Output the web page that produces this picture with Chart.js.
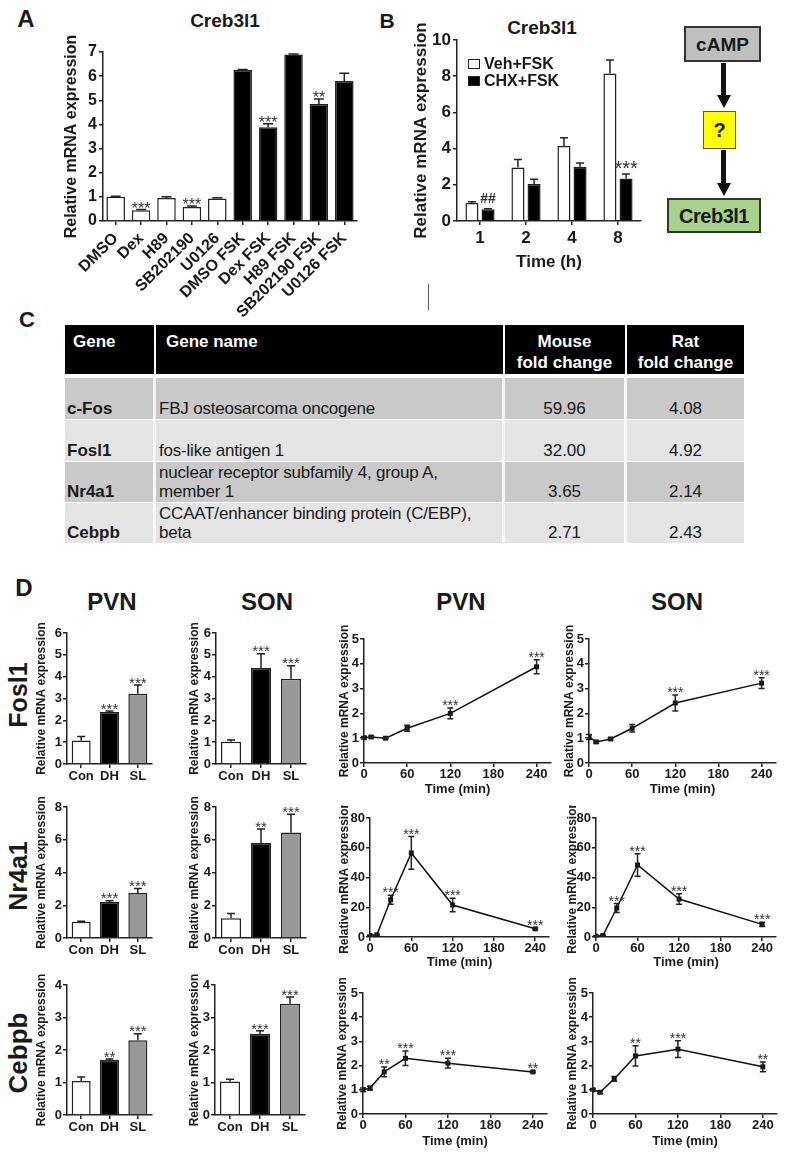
<!DOCTYPE html>
<html>
<head>
<meta charset="utf-8">
<script src="https://cdn.jsdelivr.net/npm/chart.js@4.4.1/dist/chart.umd.min.js"></script>
<style>
  body { margin: 0; background: #fff; font-family: "Liberation Sans", Arial, sans-serif; color: #1a1a1a; }
  #page { position: relative; width: 787px; height: 1157px; overflow: hidden; }
  #page canvas { position: absolute; }
  .txt { position: absolute; white-space: nowrap; font-weight: bold; line-height: 1; transform: translate(-50%, -50%); }
  .rot { transform: translate(-50%, -50%) rotate(-90deg); }
  .cell { position: absolute; box-sizing: border-box; font-size: 17px; line-height: 19px; display: flex; align-items: flex-end; }
</style>
</head>
<body>
<div id="page"></div>
<script>
// ---- panel A: Creb3l1 after inhibitors +/- FSK
const aGroups = ["DMSO", "Dex", "H89", "SB202190", "U0126", "DMSO FSK", "Dex FSK", "H89 FSK", "SB202190 FSK", "U0126 FSK"];
const aMean = [1.0, 0.45, 0.95, 0.58, 0.93, 6.25, 3.88, 6.9, 4.85, 5.8];
const aSem = [0.02, 0.03, 0.05, 0.04, 0.03, 0.03, 0.15, 0.02, 0.2, 0.32];
const aSig = ["", "***", "", "***", "", "", "***", "", "**", ""];

// ---- panel B: Creb3l1 time course with cycloheximide
const bHours = ["1", "2", "4", "8"];
const bSeries = ["Veh+FSK", "CHX+FSK"];
const bVeh = [1.0, 2.95, 4.15, 8.15];
const bVehSem = [0.06, 0.45, 0.45, 0.75];
const bChx = [0.65, 2.05, 3.0, 2.35];
const bChxSem = [0.03, 0.25, 0.2, 0.25];
const bChxSig = ["##", "", "", "***"];

// ---- panel C: table
const tableHead = ["Gene", "Gene name", "Mouse<br>fold change", "Rat<br>fold change"];
const tableGenes = ["c-Fos", "Fosl1", "Nr4a1", "Cebpb"];
const tableNames = ["FBJ osteosarcoma oncogene", "fos-like antigen 1", "nuclear receptor subfamily 4, group A, member 1", "CCAAT/enhancer binding protein (C/EBP), beta"];
const mouseFold = ["59.96", "32.00", "3.65", "2.71"];
const ratFold = ["4.08", "4.92", "2.14", "2.43"];

// ---- panel D: bars (Con / DH / SL)
const dGroups = ["Con", "DH", "SL"];
const fosl1PvnBar = [1.08, 2.38, 3.22];
const fosl1PvnBarSem = [0.18, 0.05, 0.4];
const fosl1SonBar = [1.02, 4.4, 3.9];
const fosl1SonBarSem = [0.08, 0.65, 0.6];
const nr4a1PvnBar = [1.0, 2.2, 2.75];
const nr4a1PvnBarSem = [0.03, 0.08, 0.28];
const nr4a1SonBar = [1.2, 5.8, 6.45];
const nr4a1SonBarSem = [0.3, 0.85, 1.1];
const cebpbPvnBar = [1.05, 1.69, 2.3];
const cebpbPvnBarSem = [0.12, 0.03, 0.2];
const cebpbSonBar = [1.03, 2.49, 3.42];
const cebpbSonBarSem = [0.07, 0.1, 0.21];
const fosl1PvnBarSig = ["", "***", "***"];
const fosl1SonBarSig = ["", "***", "***"];
const nr4a1PvnBarSig = ["", "***", "***"];
const nr4a1SonBarSig = ["", "**", "***"];
const cebpbPvnBarSig = ["", "**", "***"];
const cebpbSonBarSig = ["", "***", "***"];

// ---- panel D: time courses (min)
const minutes = [0, 10, 30, 60, 120, 240];
const timeTicks = [0, 60, 120, 180, 240];
const fosl1PvnTime = [1.02, 1.05, 1.0, 1.4, 2.0, 3.88];
const fosl1PvnTimeSem = [0.05, 0.04, 0.03, 0.12, 0.22, 0.28];
const fosl1PvnTimeSig = ["", "", "", "", "***", "***"];
const fosl1SonTime = [1.05, 0.85, 0.97, 1.4, 2.42, 3.22];
const fosl1SonTimeSem = [0.1, 0.04, 0.04, 0.15, 0.32, 0.22];
const fosl1SonTimeSig = ["", "", "", "", "***", "***"];
const nr4a1PvnTime = [1.0, 1.5, 25, 56.5, 21.5, 5.5];
const nr4a1PvnTimeSem = [0.3, 0.4, 3, 11, 4.5, 0.6];
const nr4a1PvnTimeSig = ["", "", "***", "***", "***", "***"];
const nr4a1SonTime = [0.5, 1.0, 19.5, 48.4, 25.5, 8.5];
const nr4a1SonTimeSem = [0.3, 0.4, 3, 7.5, 3.5, 1.5];
const nr4a1SonTimeSig = ["", "", "***", "***", "***", "***"];
const cebpbPvnTime = [1.0, 1.07, 1.74, 2.3, 2.1, 1.74];
const cebpbPvnTimeSem = [0.07, 0.08, 0.2, 0.3, 0.2, 0.04];
const cebpbPvnTimeSig = ["", "", "**", "***", "***", "**"];
const cebpbSonTime = [1.0, 0.9, 1.45, 2.4, 2.68, 1.95];
const cebpbSonTimeSem = [0.05, 0.05, 0.1, 0.42, 0.35, 0.2];
const cebpbSonTimeSig = ["", "", "", "**", "***", "**"];

const INK = "#222";
const YLABEL = "Relative mRNA expression";
const page = document.getElementById("page");

Chart.defaults.font.family = '"Liberation Sans", Arial, sans-serif';
Chart.defaults.font.weight = "bold";
Chart.defaults.color = "#1a1a1a";

// error bars + significance marks, drawn from each dataset's sem / sig arrays
const errorBars = {
  id: "errorBars",
  afterDatasetsDraw(chart, args, opts) {
    const ctx = chart.ctx;
    const yScale = chart.scales.y;
    chart.data.datasets.forEach((ds, di) => {
      if (!ds.sem) return;
      const meta = chart.getDatasetMeta(di);
      meta.data.forEach((el, i) => {
        const raw = ds.data[i];
        const v = typeof raw === "object" ? raw.y : raw;
        const e = ds.sem[i] || 0;
        const hi = yScale.getPixelForValue(v + e);
        const lo = opts.twoSided ? yScale.getPixelForValue(v - e) : el.y;
        ctx.save();
        ctx.strokeStyle = INK;
        ctx.lineWidth = 1.5;
        ctx.beginPath();
        ctx.moveTo(el.x, lo);
        ctx.lineTo(el.x, hi);
        ctx.moveTo(el.x - opts.cap, hi);
        ctx.lineTo(el.x + opts.cap, hi);
        if (opts.twoSided) {
          ctx.moveTo(el.x - opts.cap, lo);
          ctx.lineTo(el.x + opts.cap, lo);
        }
        ctx.stroke();
        const mark = ds.sig ? ds.sig[i] : "";
        if (mark) {
          const size = mark.includes("#") ? opts.hashSize : opts.size;
          const centre = mark.includes("#") ? 0.36 : 0.58;
          ctx.fillStyle = "#333";
          ctx.font = `${mark.includes("#") ? "bold " : ""}${size}px "Liberation Sans", Arial, sans-serif`;
          ctx.textAlign = "center";
          ctx.textBaseline = "alphabetic";
          ctx.fillText(mark, el.x, hi - opts.gap + centre * size);
        }
        ctx.restore();
      });
    });
  }
};

function addCanvas(f) {
  const c = document.createElement("canvas");
  c.width = f.w;
  c.height = f.h;
  c.style.left = f.x + "px";
  c.style.top = f.y + "px";
  page.appendChild(c);
  return c;
}

function axisGrid(tl) {
  return { display: true, drawOnChartArea: false, drawTicks: true, tickLength: tl, color: INK, lineWidth: 1.5, offset: false };
}

// f = canvas frame, a = plot area (page coords)
function buildChart(f, a, cfg) {
  const ys = cfg.yTitle.size;
  const y = Object.assign({
    border: { color: INK, width: 1.5 },
    grid: axisGrid(4),
    title: {
      display: true, text: YLABEL, color: "#1a1a1a",
      font: { size: ys, weight: "bold", lineHeight: 1 },
      padding: { top: cfg.yTitle.cx - f.x - ys / 2, bottom: 0 }
    },
    afterFit: (s) => { s.width = a.l - f.x; }
  }, cfg.y);
  const x = Object.assign({
    border: { color: INK, width: 1.5 },
    grid: axisGrid(cfg.xTick || 4),
    afterFit: (s) => { s.height = f.y + f.h - a.b; }
  }, cfg.x);
  if (cfg.xTitle) {
    const xs = cfg.xTitle.size;
    x.title = {
      display: true, text: cfg.xTitle.text, color: "#1a1a1a",
      font: { size: xs, weight: "bold", lineHeight: 1 },
      padding: { top: 0, bottom: f.y + f.h - cfg.xTitle.cy - xs / 2 }
    };
  }
  return new Chart(addCanvas(f), {
    type: cfg.type,
    data: cfg.data,
    options: {
      responsive: false,
      animation: false,
      devicePixelRatio: 1,
      layout: { padding: { top: a.t - f.y, right: f.x + f.w - a.r, left: 0, bottom: 0 } },
      plugins: { legend: { display: false }, tooltip: { enabled: false }, errorBars: cfg.marks },
      scales: { x, y }
    },
    plugins: [errorBars]
  });
}

function text(str, cx, cy, size, extra) {
  const d = document.createElement("div");
  d.className = "txt" + (extra && extra.rot ? " rot" : "");
  d.style.left = cx + "px";
  d.style.top = cy + "px";
  d.style.fontSize = size + "px";
  d.innerHTML = str;
  page.appendChild(d);
  return d;
}

function block(x, y, w, h, style) {
  const d = document.createElement("div");
  d.style.cssText = `position:absolute;left:${x}px;top:${y}px;width:${w}px;height:${h}px;box-sizing:border-box;` + (style || "");
  page.appendChild(d);
  return d;
}

// ================= panel A
text("A", 26, 19, 24);
text("Creb3l1", 225, 20, 19);
buildChart({ x: 55, y: 18, w: 320, h: 300 }, { l: 103, t: 52, r: 357, b: 221 }, {
  type: "bar",
  data: {
    labels: aGroups,
    datasets: [{
      data: aMean, sem: aSem, sig: aSig,
      backgroundColor: aGroups.map((g) => (g.includes("FSK") ? "#000" : "#fff")),
      borderColor: INK, borderWidth: 1.5,
      barPercentage: 0.73, categoryPercentage: 1
    }]
  },
  y: { min: 0, max: 7, ticks: { stepSize: 1, font: { size: 16 }, padding: 2 } },
  x: { ticks: { minRotation: 45, maxRotation: 45, autoSkip: false, font: { size: 16 }, padding: 4 } },
  yTitle: { size: 16, cx: 72 },
  marks: { cap: 5, size: 16, hashSize: 14, gap: 5 }
});

// ================= panel B
text("B", 387, 20, 21);
text("Creb3l1", 542, 27, 19);
buildChart({ x: 400, y: 4, w: 260, h: 276 }, { l: 457, t: 40, r: 641, b: 221 }, {
  type: "bar",
  data: {
    labels: bHours,
    datasets: [
      { label: bSeries[0], data: bVeh, sem: bVehSem, backgroundColor: "#fff", borderColor: INK, borderWidth: 1.5, barPercentage: 0.81, categoryPercentage: 0.7 },
      { label: bSeries[1], data: bChx, sem: bChxSem, sig: bChxSig, backgroundColor: "#000", borderColor: INK, borderWidth: 1.5, barPercentage: 0.81, categoryPercentage: 0.7 }
    ]
  },
  y: { min: 0, max: 10, ticks: { stepSize: 2, font: { size: 17 }, padding: 2 } },
  x: { ticks: { font: { size: 17 }, padding: 3 } },
  xTick: 4,
  yTitle: { size: 17, cx: 421 },
  xTitle: { text: "Time (h)", size: 17, cy: 262 },
  marks: { cap: 4, size: 20, hashSize: 14, gap: 11 }
});
// legend from series names
bSeries.forEach((name, i) => {
  block(468, 59 + i * 17, 12, 10, `border:1.5px solid ${INK};background:${i ? "#000" : "#fff"}`);
  const t = text(name, 484, 64 + i * 17, 16);
  t.style.transform = "translate(0,-50%)";
});

// ================= diagram
block(684, 26, 77, 36, "background:#bfbfbf;border:2px solid #333");
text("cAMP", 722.5, 44, 19);
block(721, 63, 5, 33, "background:#111");
block(716.5, 95, 0, 0, "border-left:7px solid transparent;border-right:7px solid transparent;border-top:13px solid #111");
block(703, 111, 33, 38, "background:#ffff00;border:1.5px solid #555");
text("?", 719.5, 130, 20);
block(721, 150, 5, 34, "background:#111");
block(716.5, 183, 0, 0, "border-left:7px solid transparent;border-right:7px solid transparent;border-top:13px solid #111");
block(667, 198, 94, 35, "background:#a9d18e;border:2px solid #333");
text("Creb3l1", 714, 216, 20).style.letterSpacing = "-0.5px";
block(428, 284, 1, 26, "background:#555");

// ================= panel C table
text("C", 27, 320, 22);
const colX = [65, 153, 502, 624, 744];
block(65, 325, 679, 49, "background:#000");
tableHead.forEach((h, c) => {
  const cell = block(colX[c] + (c ? 1 : 0), 325, colX[c + 1] - colX[c] - (c ? 1 : 0), 49, "");
  cell.className = "cell";
  cell.style.cssText += `color:#fff;font-weight:bold;line-height:21px;align-items:flex-start;padding-top:6px;` +
    (c < 2 ? `padding-left:${c ? 10 : 8}px;` : "justify-content:center;text-align:center;");
  if (c > 0) cell.style.borderLeft = "2px solid #fff";
  cell.innerHTML = `<span>${h}</span>`;
});
const rowTop = [378, 420, 462, 503];
const rowBot = [419, 461, 502, 543];
tableGenes.forEach((g, r) => {
  const bg = r % 2 ? "#e4e4e4" : "#c9c9c9";
  const cols = [g, tableNames[r], mouseFold[r], ratFold[r]];
  cols.forEach((v, c) => {
    const cell = block(colX[c] + (c ? 1 : 0), rowTop[r], colX[c + 1] - colX[c] - (c ? 1 : 0), rowBot[r] - rowTop[r], `background:${bg};`);
    cell.className = "cell";
    cell.style.paddingBottom = "1px";
    if (c > 0) cell.style.borderLeft = "2px solid #f4f4f4";
    if (c === 0) { cell.style.fontWeight = "bold"; cell.style.paddingLeft = "2px"; }
    if (c === 1) { cell.style.paddingLeft = "3px"; cell.style.paddingRight = "8px"; cell.style.letterSpacing = "-0.2px"; }
    if (c > 1) cell.style.justifyContent = "center";
    cell.innerHTML = `<span>${v}</span>`;
  });
});

// ================= panel D
text("D", 24, 588, 24);
text("PVN", 112, 602, 24);
text("SON", 267, 602, 24);
text("PVN", 461, 602, 24);
text("SON", 677, 602, 24);
text("Fosl1", 18, 695, 25, { rot: true });
text("Nr4a1", 18, 876, 25, { rot: true });
text("Cebpb", 18, 1053, 26, { rot: true });

const dBarColours = ["#fff", "#000", "#999"];

function barPanel(f, a, vals, sem, sig, max, step, labelX) {
  buildChart(f, a, {
    type: "bar",
    data: {
      labels: dGroups,
      datasets: [{ data: vals, sem, sig, backgroundColor: dBarColours, borderColor: INK, borderWidth: 1.5, barPercentage: 0.67, categoryPercentage: 1 }]
    },
    y: { min: 0, max, ticks: { stepSize: step, font: { size: 13 }, padding: 1 } },
    x: { ticks: { font: { size: 13 }, padding: 1, autoSkip: false, minRotation: 0, maxRotation: 0 } },
    yTitle: { size: 12, cx: labelX },
    marks: { cap: 4, size: 15, hashSize: 13, gap: 6 }
  });
}

function timePanel(f, a, vals, sem, sig, max, step, labelX, titleY) {
  buildChart(f, a, {
    type: "line",
    data: {
      datasets: [{
        data: minutes.map((m, i) => ({ x: m, y: vals[i] })), sem, sig,
        borderColor: "#111", borderWidth: 1.5, backgroundColor: "#111",
        pointStyle: "rect", pointRadius: 3.5, pointBorderWidth: 0, tension: 0
      }]
    },
    y: { type: "linear", min: 0, max, ticks: { stepSize: step, font: { size: 13 }, padding: 1 } },
    x: {
      type: "linear", min: 0, max: 260,
      ticks: { stepSize: 60, includeBounds: false, autoSkip: false, maxRotation: 0, font: { size: 13 }, padding: 0 },
      afterBuildTicks: (s) => { s.ticks = timeTicks.map((v) => ({ value: v })); }
    },
    yTitle: { size: 12, cx: labelX },
    xTitle: { text: "Time (min)", size: 13, cy: titleY },
    marks: { cap: 3, size: 14, hashSize: 13, gap: 6, twoSided: true }
  });
}

// row Fosl1
barPanel({ x: 32, y: 615, w: 130, h: 175 }, { l: 67, t: 633, r: 152, b: 764 }, fosl1PvnBar, fosl1PvnBarSem, fosl1PvnBarSig, 6, 1, 42);
barPanel({ x: 185, y: 615, w: 131, h: 175 }, { l: 216, t: 633, r: 306, b: 764 }, fosl1SonBar, fosl1SonBarSem, fosl1SonBarSig, 6, 1, 195);
timePanel({ x: 335, y: 615, w: 230, h: 185 }, { l: 364, t: 639, r: 551, b: 763 }, fosl1PvnTime, fosl1PvnTimeSem, fosl1PvnTimeSig, 5, 1, 345, 789);
timePanel({ x: 560, y: 615, w: 227, h: 185 }, { l: 589, t: 639, r: 776, b: 763 }, fosl1SonTime, fosl1SonTimeSem, fosl1SonTimeSig, 5, 1, 570, 789);

// row Nr4a1
barPanel({ x: 32, y: 790, w: 130, h: 175 }, { l: 67, t: 807, r: 152, b: 938 }, nr4a1PvnBar, nr4a1PvnBarSem, nr4a1PvnBarSig, 8, 1, 42);
barPanel({ x: 185, y: 790, w: 131, h: 175 }, { l: 216, t: 807, r: 306, b: 938 }, nr4a1SonBar, nr4a1SonBarSem, nr4a1SonBarSig, 8, 1, 195);
timePanel({ x: 335, y: 805, w: 230, h: 172 }, { l: 370, t: 818, r: 549, b: 937 }, nr4a1PvnTime, nr4a1PvnTimeSem, nr4a1PvnTimeSig, 80, 20, 345, 962);
timePanel({ x: 560, y: 805, w: 227, h: 172 }, { l: 596, t: 818, r: 776, b: 937 }, nr4a1SonTime, nr4a1SonTimeSem, nr4a1SonTimeSig, 80, 20, 573, 962);

// row Cebpb
barPanel({ x: 32, y: 965, w: 130, h: 175 }, { l: 67, t: 985, r: 152, b: 1115 }, cebpbPvnBar, cebpbPvnBarSem, cebpbPvnBarSig, 4, 1, 42);
barPanel({ x: 185, y: 965, w: 131, h: 175 }, { l: 215, t: 985, r: 305, b: 1115 }, cebpbSonBar, cebpbSonBarSem, cebpbSonBarSig, 4, 1, 195);
timePanel({ x: 333, y: 975, w: 230, h: 180 }, { l: 363, t: 993, r: 547, b: 1114 }, cebpbPvnTime, cebpbPvnTimeSem, cebpbPvnTimeSig, 5, 1, 343, 1141);
timePanel({ x: 560, y: 975, w: 227, h: 180 }, { l: 593, t: 993, r: 777, b: 1114 }, cebpbSonTime, cebpbSonTimeSem, cebpbSonTimeSig, 5, 1, 573, 1141);
</script>
</body>
</html>
